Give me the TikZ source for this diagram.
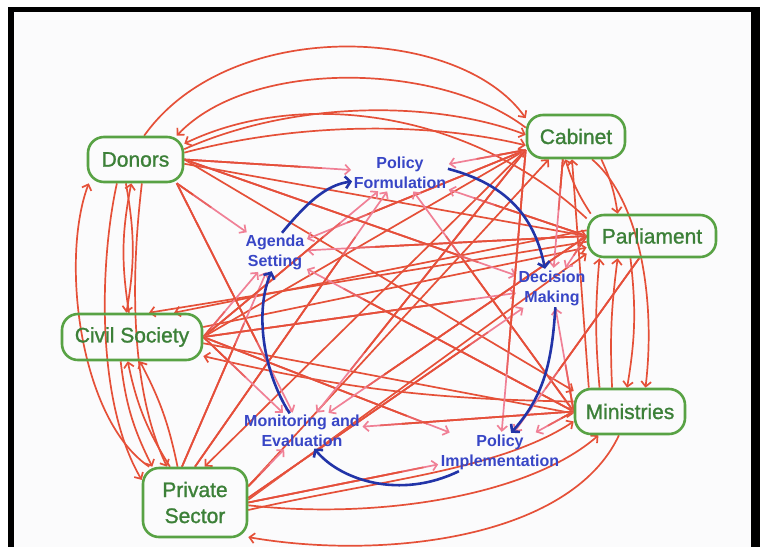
\documentclass[tikz,border=0pt]{standalone}
\usepackage{fontspec}
\setmainfont{Liberation Sans}
\newfontfamily\actorfont{Liberation Sans}[FakeBold=1.2]
\usetikzlibrary{arrows.meta,calc}

\definecolor{netred}{RGB}{229,80,56}
\definecolor{netmid}{RGB}{234,100,100}
\definecolor{netpink}{RGB}{240,128,150}
\definecolor{actgreen}{RGB}{88,162,68}
\definecolor{acttext}{RGB}{60,128,56}
\definecolor{stageblue}{RGB}{56,70,198}
\definecolor{cycleblue}{RGB}{34,52,168}
\definecolor{paper}{RGB}{251,251,252}

\pgfdeclarelayer{paperlayer}
\pgfdeclarelayer{linelayer}
\pgfsetlayers{paperlayer,linelayer,main}

\tikzset{
  actor/.style={draw=actgreen, line width=2.6pt, rounded corners=16pt,
    text=acttext, font=\actorfont\fontsize{21}{26}\selectfont, align=center, inner sep=0pt},
  stage/.style={text=stageblue, font=\bfseries\fontsize{16}{20}\selectfont,
    align=center, inner sep=1.5pt},
  barbtip/.style={-{Straight Barb[length=5pt,width=10pt]}},
  link/.style={draw=netred, line width=1.7pt, barbtip},
  pinklink/.style={draw=netpink, line width=1.7pt, barbtip, shorten >=1pt},
  redpart/.style={draw=netred, line width=1.7pt},
  midpart/.style={draw=netmid, line width=1.7pt},
  cyclearrow/.style={draw=cycleblue, line width=2.6pt,
    -{Straight Barb[length=5pt,width=12pt]}},
}

% actor -> stage connector: red, fading to pink towards the stage label
\newcommand\stagelink[3][1]{%
  \draw[pinklink] (#2) -- (#3);
  \draw[midpart] (#2) -- ($(#3)!#1*78pt!(#2)$);
  \draw[redpart] (#2) -- ($(#3)!#1*100pt!(#2)$);}

\begin{document}
\begin{tikzpicture}[x=1pt,y=-1pt]
\useasboundingbox (0,0) rectangle (760,547);
\begin{pgfonlayer}{paperlayer}
  \fill[white] (0,0) rectangle (760,547);
  \fill[black] (8,6.5) rectangle (760,547);
  \fill[paper] (13.5,12) rectangle (751,547);
\end{pgfonlayer}

% actors
\node[actor, minimum width=95pt, minimum height=45pt] (D) at (135.5,159.5) {Donors};
\node[actor, minimum width=98pt, minimum height=43pt] (C) at (576,136.5) {Cabinet};
\node[actor, minimum width=128pt, minimum height=42pt] (P) at (652,236) {Parliament};
\node[actor, minimum width=140pt, minimum height=46pt] (CS) at (132,337) {Civil Society};
\node[actor, minimum width=110pt, minimum height=45pt] (M) at (630,411.5) {Ministries};
\node[actor, minimum width=104pt, minimum height=69pt] (PS) at (195,502.5) {Private\\Sector};

% policy cycle stages
\node[stage] (PF) at (400,173) {Policy\\Formulation};
\node[stage] (DM) at (552,288) {Decision\\Making};
\node[stage] (PI) at (500,452) {Policy\\Implementation};
\node[stage] (ME) at (302,431) {Monitoring and\\Evaluation};
\node[stage] (AS) at (275,252) {Agenda\\Setting};

\begin{pgfonlayer}{linelayer}
  % arcs over the top
  \draw[link] (D.70) .. controls (230,15) and (460,25) .. (C.160);
  \draw[link] (C.170) .. controls (440,62) and (250,58) .. (D.30);
  \draw[link] (P.165) .. controls (470,110) and (300,88) .. (D.18);
  \draw[link] (D.12) .. controls (300,98) and (440,102) .. (C.178);
  \draw[link] (D.8) .. controls (300,122) and (430,122) .. (C.-170);

  % arcs down the left side
  \draw[link] (PS.142) .. controls (80,420) and (60,260) .. (D.-153);
  \draw[link] (D.-128) .. controls (100,260) and (95,400) .. (PS.157);
  \draw[link] (CS.97) to[bend left=10] (D.-100);
  \draw[link] (D.-112) to[bend left=10] (CS.103);
  \draw[link] (D.-75) .. controls (128,300) and (135,400) .. (PS.128);
  \draw[link] (PS.125) to[bend left=10] (CS.-100);
  \draw[link] (PS.116) to[bend right=8] (CS.-72);
  \draw[link] (CS.-115) to[bend right=10] (PS.140);

  % arcs down the right side
  \draw[link] (C.-42) to[bend left=8] (P.147);
  \draw[link] (P.160) to[bend left=8] (C.-115);
  \draw[link] (C.-55) .. controls (640,200) and (656,300) .. (M.57);
  \draw[link] (P.-134) to[bend left=8] (M.97);
  \draw[link] (M.142) to[bend left=5] (P.-157);
  \draw[link] (M.127) to[bend left=5] (P.-147);
  \draw[link] (M.150) -- (C.-100);

  % arcs along the bottom
  \draw[link] (PS.-3) .. controls (380,520) and (530,495) .. (M.-143);
  \draw[link] (M.-115) .. controls (570,540) and (380,560) .. (PS.-33);
  \draw[link] (PS.-8) .. controls (380,480) and (500,470) .. (M.-170);

  % straight links across the middle
  \draw[link] (D.-5) -- (P.west);
  \draw[link] (D.east) -- (M.160);
  \draw[link] (CS.east) -- (C.-165);
  \draw[link] (P.-175) -- (CS.55);
  \draw[link] (P.175) -- (CS.30);
  \draw[link] (CS.8) -- (P.-170);
  \draw[link] (CS.-5) -- (M.-178);
  \draw[link] (M.170) to[bend left=6] (CS.-15);
  \draw[link] (PS.17) -- (C.-140);
  \draw[link] (C.-165) -- (PS.75);
  \draw[link] (PS.3) -- (P.-165);

  % actors feeding the policy stages
  \stagelink{D.-30}{AS}
  \stagelink{C.-165}{AS}
  \stagelink{P.west}{AS}
  \stagelink{M.west}{AS}
  \stagelink{CS.east}{AS}
  \stagelink{PS.110}{AS}

  \stagelink{D.east}{PF}
  \stagelink{C.-165}{PF}
  \stagelink{P.west}{PF}
  \stagelink{M.west}{PF}
  \stagelink{CS.east}{PF}
  \stagelink{PS.90}{PF}

  \stagelink{D.east}{DM}
  \stagelink{C.-120}{DM}
  \stagelink[0.5]{P.west}{DM}
  \stagelink{M.west}{DM}
  \stagelink{CS.east}{DM}
  \stagelink{PS.5}{DM}

  \stagelink{C.-165}{PI}
  \stagelink{P.-120}{PI}
  \stagelink[0.7]{M.west}{PI}
  \stagelink{CS.east}{PI}
  \stagelink{PS.0}{PI}

  \stagelink{D.-30}{ME}
  \stagelink{C.-165}{ME}
  \stagelink{P.west}{ME}
  \stagelink{M.west}{ME}
  \stagelink{CS.east}{ME}
  \stagelink[0.6]{PS.17}{ME}
\end{pgfonlayer}

% the policy cycle
\draw[cyclearrow] (AS.70) .. controls (305,205) and (325,185) .. (PF.190);
\draw[cyclearrow] (PF.5) .. controls (510,185) and (535,220) .. (DM.110);
\draw[cyclearrow] (DM.-80) .. controls (552,360) and (545,395) .. (PI.60);
\draw[cyclearrow] (PI.-155) .. controls (400,500) and (340,480) .. (ME.-55);
\draw[cyclearrow] (ME.125) .. controls (262,370) and (255,310) .. (AS.-100);
\end{tikzpicture}
\end{document}
